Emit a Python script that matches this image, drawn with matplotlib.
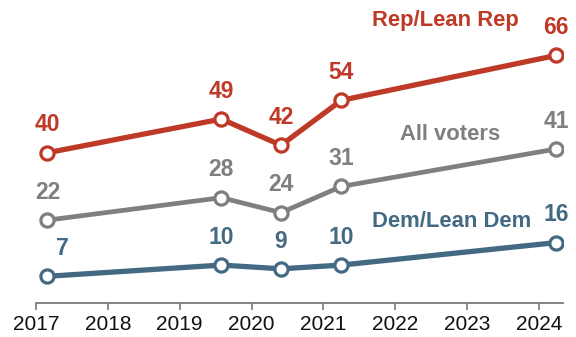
import matplotlib
matplotlib.use("Agg")
import matplotlib.pyplot as plt

# Survey dates (decimal years) and shares for each group
dates = [2017.16, 2019.58, 2020.41, 2021.25, 2024.24]
rep_values = [40, 49, 42, 54, 66]
all_values = [22, 28, 24, 31, 41]
dem_values = [7, 10, 9, 10, 16]
year_ticks = [2017, 2018, 2019, 2020, 2021, 2022, 2023, 2024]

RED = "#bf3927"
GRAY = "#7f7f7f"
BLUE = "#436983"

plt.rcParams["font.family"] = ["Liberation Sans", "DejaVu Sans"]

fig = plt.figure(figsize=(5.76, 3.37), dpi=100)
ax = fig.add_axes([36 / 576, 1 - 302.5 / 337, (562.7 - 36) / 576, 80 * 3.744 / 337])

series = [
    (rep_values, RED, 3.8),
    (all_values, GRAY, 3.4),
    (dem_values, BLUE, 3.8),
]
for vals, color, lw in series:
    ax.plot(dates, vals, color=color, lw=lw, marker="o", ms=9.5,
            mfc="white", mec=color, mew=2.3, zorder=3, solid_capstyle="round")

label_font = dict(fontsize=16.5, fontweight="bold", ha="center", va="center")

def value_labels(vals, color, dx=None):
    for i, (x, v) in enumerate(zip(dates, vals)):
        off_x = dx[i] if dx else 0
        ax.annotate(f"{v}", (x, v), xytext=(off_x, 20), textcoords="offset points",
                    color=color, **label_font)

value_labels(rep_values, RED)
value_labels(all_values, GRAY)
value_labels(dem_values, BLUE, dx=[11, 0, 0, 0, 0])

name_font = dict(fontsize=15.8, fontweight="bold", ha="center", va="center")
ax.text(2022.70, 75.2, "Rep/Lean Rep", color=RED, **name_font)
ax.text(2022.77, 45.0, "All voters", color=GRAY, **name_font)
ax.text(2022.79, 21.6, "Dem/Lean Dem", color=BLUE, **name_font)

ax.set_xlim(2017, 2024.33)
ax.set_ylim(0, 80)
ax.set_xticks(year_ticks)
ax.set_xticklabels([str(y) for y in year_ticks])
ax.set_yticks([])
for side in ["left", "right", "top"]:
    ax.spines[side].set_visible(False)
ax.spines["bottom"].set_color("#7a7a7a")
ax.spines["bottom"].set_linewidth(1.3)
ax.tick_params(axis="x", length=5, width=1.2, color="#7a7a7a", labelsize=15, pad=4,
               labelcolor="#111111")
ax.patch.set_alpha(0)

fig.savefig("out.png", dpi=100)
